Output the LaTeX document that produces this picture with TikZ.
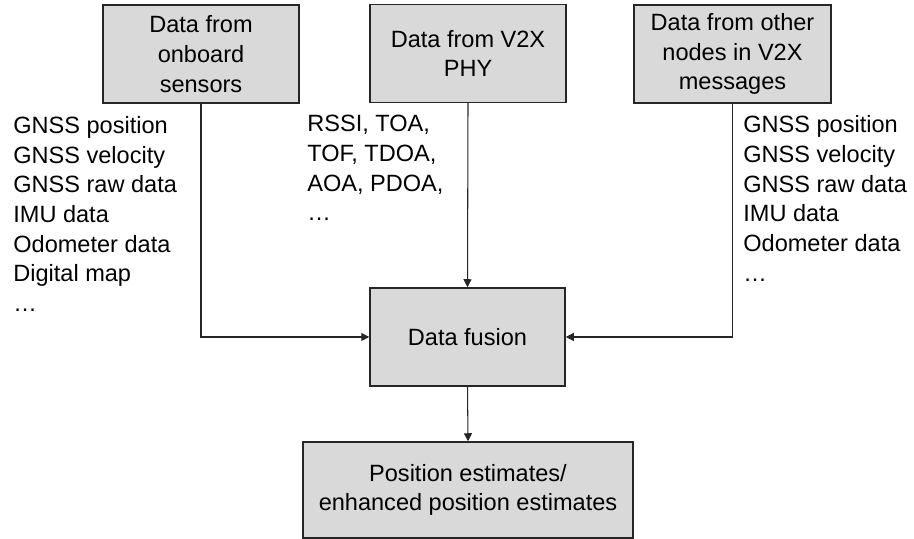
\documentclass[tikz,border=0pt]{standalone}
\usepackage{fontspec}
\setmainfont{Liberation Sans}
\usetikzlibrary{arrows.meta}

\tikzset{
    databox/.style={draw=black!85, fill=black!15, line width=0.85pt, align=center,
        minimum width=3.92cm, minimum height=1.96cm, inner sep=0pt},
    flow/.style={-{Triangle[length=0.16cm, width=0.16cm]}, line width=0.6pt, black!85},
    itemlist/.style={align=left, anchor=north west, inner sep=0pt}
}

\begin{document}
\begin{tikzpicture}[font=\fontsize{13.4pt}{16.9pt}\selectfont]
    % Fix the page size
    \useasboundingbox (0,0) rectangle (18.28,10.78);

    % Add the three data sources
    \node[databox] (onboard) at (4.02,9.70) {Data from\\onboard\\sensors};
    \node[databox] (phy) at (9.36,9.71) {Data from V2X\\PHY};
    \node[databox, minimum width=3.94cm] (others) at (14.65,9.70) {Data from other\\nodes in V2X\\messages};

    % Add the fusion block
    \node[databox, minimum width=3.90cm] (fusion) at (9.35,4.04) {Data fusion};

    % Add the output block
    \node[databox, minimum width=6.60cm, minimum height=1.92cm] (output) at (9.36,0.98)
        {Position estimates/\\enhanced position estimates};

    % Add the lists of data next to the sources
    \node[itemlist] (onboardlist) at (0.26,8.46) {GNSS position\\GNSS velocity\\GNSS raw data\\IMU data\\Odometer data\\Digital map\\\dots};
    \node[itemlist] (phylist) at (6.14,8.48) {RSSI, TOA,\\TOF, TDOA,\\AOA, PDOA,\\\dots};
    \node[itemlist] (otherslist) at (14.86,8.47) {GNSS position\\GNSS velocity\\GNSS raw data\\IMU data\\Odometer data\\\dots};

    % Add the connectors into the fusion block
    \draw[flow] (onboard.south) |- (fusion.west);
    \draw[flow] (phy.south) -- (fusion.north);
    \draw[flow] (others.south) |- (fusion.east);

    % Add the connector to the output
    \draw[flow] (fusion.south) -- (output.north);
\end{tikzpicture}
\end{document}
